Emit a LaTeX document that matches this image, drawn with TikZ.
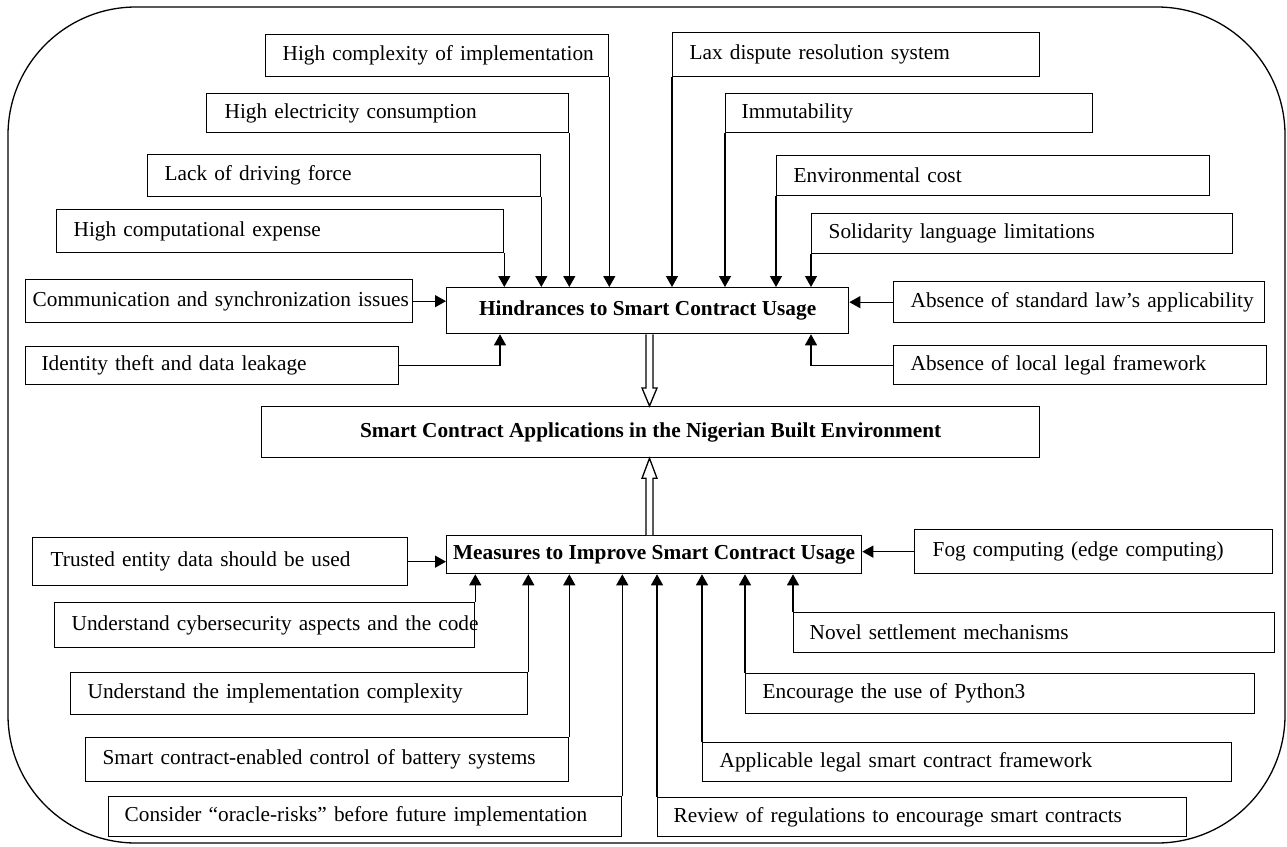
\documentclass[tikz,border=0pt]{standalone}
\usepackage{fontspec}
\setmainfont{Liberation Serif}
\usetikzlibrary{arrows.meta,calc}
\tikzset{
  tb/.style={draw, line width=1.3pt, inner ysep=0pt, font=\fontsize{21.3}{25}\selectfont},
  arr/.style={line width=1.3pt, -{Triangle[length=11pt,width=12pt]}},
  hol/.style={line width=1.3pt, fill=white, line join=miter},
}
\newcommand\tbox[7]{%
  \pgfmathsetmacro\tbw{#4-#2-2*#6}%
  \pgfmathsetmacro\tbh{#5-#3}%
  \node[tb, anchor=north west, align=left, text width=\tbw pt, minimum height=\tbh pt, inner xsep=#6 pt] (#1) at (#2,#3) {\mbox{#7}};}
\newcommand\cbox[6]{%
  \pgfmathsetmacro\tbw{#4-#2}%
  \pgfmathsetmacro\tbh{#5-#3}%
  \node[tb, anchor=north west, align=center, inner xsep=0pt, minimum width=\tbw pt, minimum height=\tbh pt] (#1) at (#2,#3) {\bfseries #6};}
\begin{document}
\begin{tikzpicture}[x=1pt,y=-1pt]
\useasboundingbox (0,0) rectangle (1287,846);
\draw[line width=1.3pt, rounded corners=128pt] (8,7) rectangle (1285,843);

% central nodes
\cbox{hind}{446}{287}{848}{333}{Hindrances to Smart Contract Usage}
\cbox{sca}{261}{406}{1039}{457}{Smart Contract Applications in the Nigerian Built Environment}
\cbox{meas}{446}{535}{861}{573}{Measures to Improve Smart Contract Usage}

% hindrances
\tbox{hc}{265}{34}{608}{76}{17}{High complexity of implementation}
\tbox{he}{206}{93}{568}{132}{18}{High electricity consumption}
\tbox{ld}{147}{154}{540}{196}{17}{Lack of driving force}
\tbox{hce}{56}{209}{503}{252}{17}{High computational expense}
\tbox{cs}{25}{279}{412}{322}{7}{Communication and synchronization issues}
\tbox{it}{25}{346}{398}{384}{16}{Identity theft and data leakage}
\tbox{lax}{672}{32}{1039}{76}{17}{Lax dispute resolution system}
\tbox{imm}{725}{93}{1092}{132}{16}{Immutability}
\tbox{env}{776}{155}{1209}{195}{17}{Environmental cost}
\tbox{sol}{811}{213}{1232}{253}{17}{Solidarity language limitations}
\tbox{asl}{893}{281}{1264}{322}{17}{Absence of standard law’s applicability}
\tbox{alf}{893}{345}{1266}{384}{17}{Absence of local legal framework}

% measures
\tbox{ted}{32}{537}{407}{585}{18}{Trusted entity data should be used}
\tbox{ucs}{54}{602}{474}{647}{17}{Understand cybersecurity aspects and the code}
\tbox{uic}{70}{672}{527}{714}{17}{Understand the implementation complexity}
\tbox{scb}{85}{737}{568}{781}{17}{Smart contract-enabled control of battery systems}
\tbox{cor}{108}{796}{621}{836}{16}{Consider “oracle-risks” before future implementation}
\tbox{fog}{914}{529}{1272}{573}{18}{Fog computing (edge computing)}
\tbox{nsm}{793}{612}{1274}{652}{16}{Novel settlement mechanisms}
\tbox{eup}{745}{673}{1254}{713}{17}{Encourage the use of Python3}
\tbox{alsc}{702}{742}{1231}{781}{17}{Applicable legal smart contract framework}
\tbox{rev}{657}{797}{1186}{836}{16}{Review of regulations to encourage smart contracts}

% arrows into hindrances
\foreach \n in {hc,he,ld,hce}
  \draw[arr] (\n.south east) -- (\n.south east |- hind.north);
\foreach \n in {lax,imm,env,sol}
  \draw[arr] (\n.south west) -- (\n.south west |- hind.north);
\draw[arr] (cs.east) -- (cs.east -| hind.west);
\draw[arr] (asl.west) -- (asl.west -| hind.east);
\coordinate (itx) at (500,0);
\draw[arr] (it.east) -| (itx |- hind.south);
\draw[arr] (alf.west) -| (sol.south west |- hind.south);

% arrows into measures
\foreach \n in {ucs,uic,scb,cor}
  \draw[arr] (\n.north east) -- (\n.north east |- meas.south);
\foreach \n in {nsm,eup,alsc,rev}
  \draw[arr] (\n.north west) -- (\n.north west |- meas.south);
\draw[arr] (ted.east) -- (ted.east -| meas.west);
\draw[arr] (fog.west) -- (fog.west -| meas.east);

% hollow arrows
\coordinate (ha) at (649.5,0);
\coordinate (d0) at (ha |- hind.south);
\coordinate (d1) at (ha |- sca.north);
\draw[hol] ([xshift=-3.5pt]d0) -- ([xshift=-3.5pt,yshift=18pt]d1) -- ([xshift=-7.5pt,yshift=18pt]d1) -- (d1)
  -- ([xshift=7.5pt,yshift=18pt]d1) -- ([xshift=3.5pt,yshift=18pt]d1) -- ([xshift=3.5pt]d0);
\coordinate (u0) at (ha |- meas.north);
\coordinate (u1) at (ha |- sca.south);
\draw[hol] ([xshift=-3.5pt]u0) -- ([xshift=-3.5pt,yshift=-20pt]u1) -- ([xshift=-7.5pt,yshift=-20pt]u1) -- (u1)
  -- ([xshift=7.5pt,yshift=-20pt]u1) -- ([xshift=3.5pt,yshift=-20pt]u1) -- ([xshift=3.5pt]u0);
\end{tikzpicture}
\end{document}
